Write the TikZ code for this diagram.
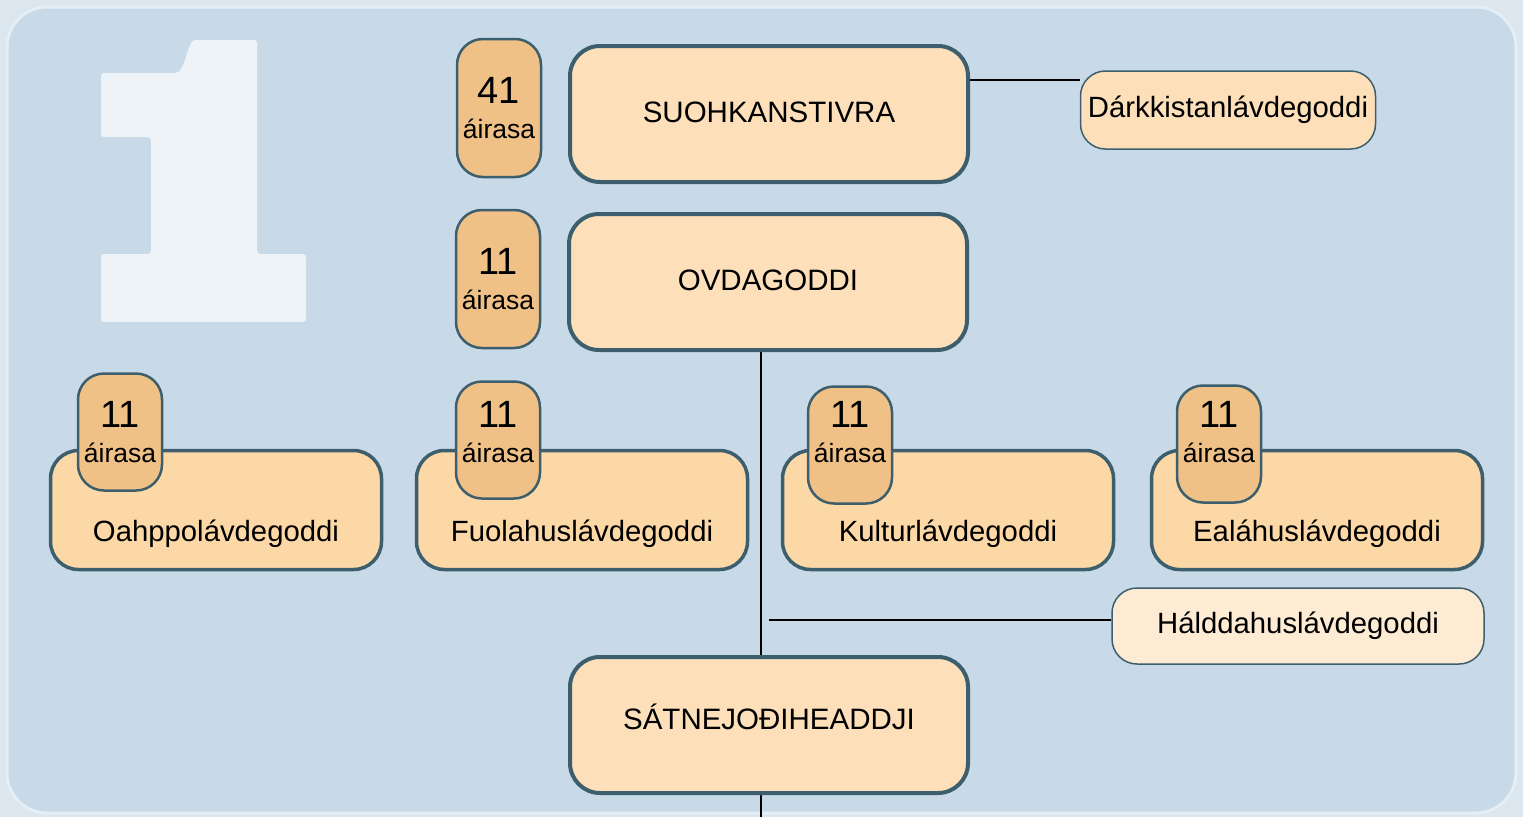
\documentclass[tikz,border=0pt]{standalone}
\usepackage{fontspec}
\setmainfont{Liberation Sans}
\usetikzlibrary{positioning}
\definecolor{edgeblue}{HTML}{DCE6EF}
\definecolor{panelblue}{HTML}{C8DAE8}
\definecolor{panelrim}{HTML}{E6EEF5}
\definecolor{bigone}{HTML}{EEF3F8}
\definecolor{boxfill}{HTML}{FDE0BA}
\definecolor{rowfill}{HTML}{FCD8A7}
\definecolor{palefill}{HTML}{FDEBD3}
\definecolor{badgefill}{HTML}{F0C187}
\definecolor{boxline}{HTML}{3D5F6D}
\pgfdeclarelayer{back}
\pgfdeclarelayer{wires}
\pgfsetlayers{back,wires,main}
\newcommand{\seatnum}[1]{{\fontsize{38}{36}\selectfont #1}\\áirasa}
\tikzset{
    mainbox/.style={draw=boxline,line width=4pt,fill=boxfill,rounded corners=30pt,
        minimum width=398pt,minimum height=136pt,text height=20pt,text depth=3pt,
        font=\fontsize{29.5}{30}\selectfont},
    rowbox/.style={draw=boxline,line width=3.5pt,fill=rowfill,rounded corners=28pt,
        minimum width=331pt,minimum height=119pt,text height=62pt,text depth=0pt,
        font=\fontsize{29.3}{30}\selectfont},
    sidebox/.style={draw=boxline,line width=1.5pt,fill=boxfill,rounded corners=25pt,
        minimum width=295pt,minimum height=78pt,font=\fontsize{29.3}{30}\selectfont},
    badge/.style={draw=boxline,line width=2.5pt,fill=badgefill,rounded corners=26pt,
        minimum width=84pt,minimum height=117pt,inner sep=0pt,align=center,
        font=\fontsize{26.5}{35}\selectfont},
    raised/.style={text depth=#1},
    wire/.style={draw=black,line width=2.2pt}
}
\begin{document}
\begin{tikzpicture}[x=1pt,y=-1pt]
    \useasboundingbox (0,0) rectangle (1523,817);
    \begin{pgfonlayer}{back}
        \fill[edgeblue] (0,0) rectangle (1523,817);
        \filldraw[fill=panelblue,draw=panelrim,line width=3pt,rounded corners=40pt] (7,7) rectangle (1516,813);
        \fill[bigone,rounded corners=3pt] (101,73) -- (172,73) .. controls (186,73) and (187,40) .. (198,40)
            -- (257,40) -- (257,254) -- (306,254) -- (306,322) -- (101,322) -- (101,254)
            -- (151,254) -- (151,137) -- (101,137) -- cycle;
    \end{pgfonlayer}

    \node[mainbox] (suoh) at (769,114) {SUOHKANSTIVRA};
    \node[mainbox] (ovda) at (768,282) {OVDAGODDI};
    \node[mainbox,text depth=12pt] (satn) at (769,725) {SÁTNEJOĐIHEADDJI};
    \node[sidebox] (dark) at (1228,110) {Dárkkistanlávdegoddi};
    \node[sidebox,fill=palefill,minimum width=372pt,minimum height=76pt] (hald) at (1298,626) {Hálddahuslávdegoddi};

    \node[rowbox] (oahp) at (216,510) {Oahppolávdegoddi};
    \node[rowbox] (fuol) at (582,510) {Fuolahuslávdegoddi};
    \node[rowbox] (kult) at (948,510) {Kulturlávdegoddi};
    \node[rowbox] (ealh) at (1317,510) {Ealáhuslávdegoddi};

    \node[badge,minimum height=138pt] (suohseat) at (499,108) {\seatnum{41}};
    \node[badge,minimum height=138pt] (ovdaseat) at (498,279) {\seatnum{11}};
    \node[badge] (oahpseat) at (120,432) {\seatnum{11}};
    \node[badge,raised=16pt] (fuolseat) at (498,440) {\seatnum{11}};
    \node[badge,raised=26pt] (kultseat) at (850,445) {\seatnum{11}};
    \node[badge,raised=24pt] (ealhseat) at (1219,444) {\seatnum{11}};

    \coordinate (tap) at (1000,80);
    \coordinate (fork) at (769,620);
    \coordinate (foot) at (761,817);
    \begin{pgfonlayer}{wires}
        \draw[wire] (suoh.east |- tap) -- (dark.west |- tap);
        \draw[wire] (ovda.south -| foot) -- (foot);
        \draw[wire] (fork) -- (fork -| hald.west);
    \end{pgfonlayer}
\end{tikzpicture}
\end{document}
